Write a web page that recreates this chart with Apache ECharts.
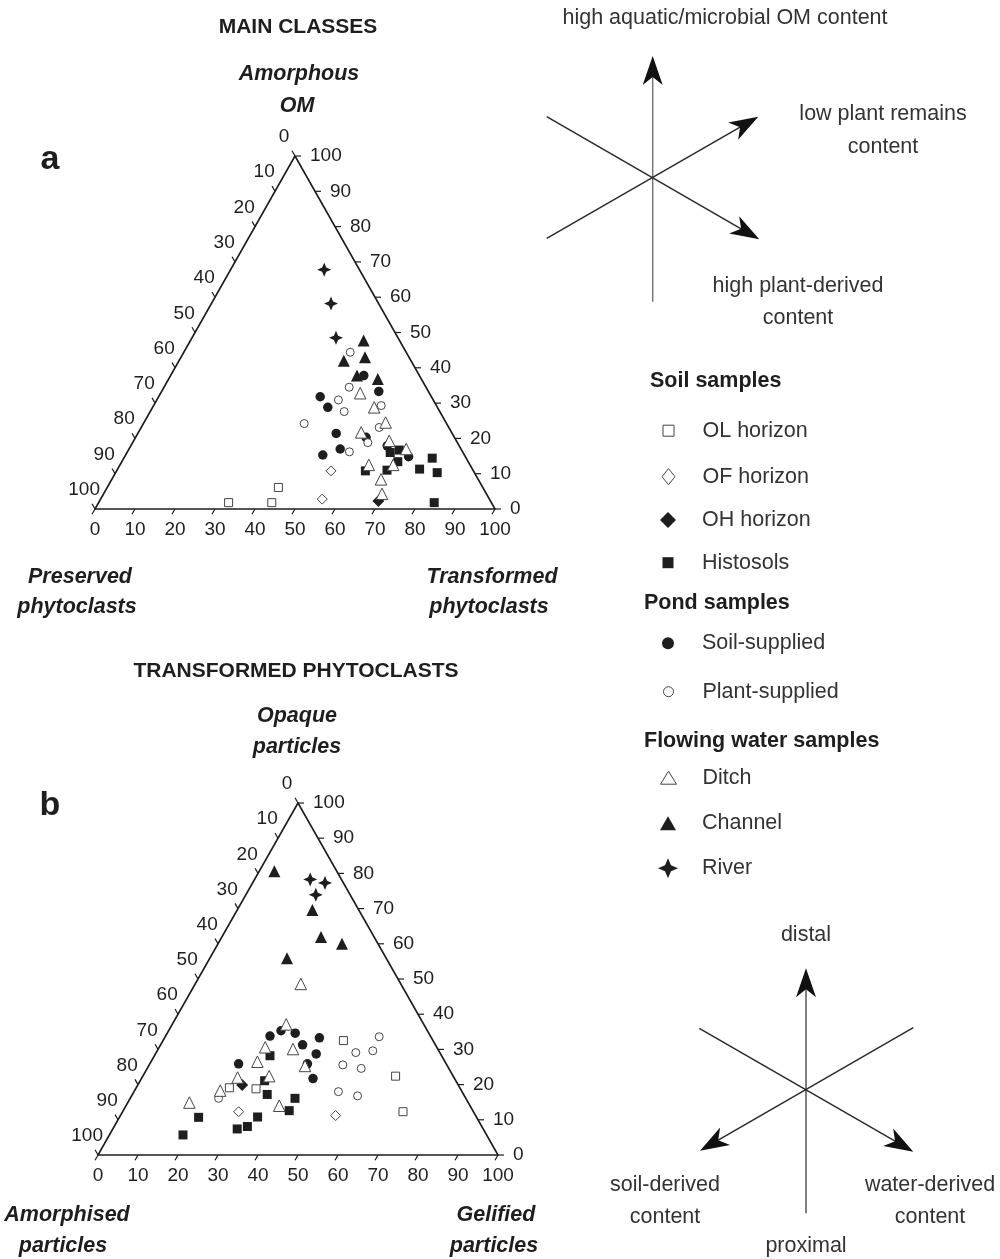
<!DOCTYPE html>
<html><head><meta charset="utf-8">
<script src="https://cdn.jsdelivr.net/npm/echarts@6.0.0/dist/echarts.min.js"></script>
<style>html,body{margin:0;padding:0;background:#fff}#c{width:1000px;height:1259px}</style>
</head><body><div id="c"></div>
<script>
// ---------- DATA ----------
const tickValues = [0,10,20,30,40,50,60,70,80,90,100];
const seriesNames = ['OL horizon','OF horizon','OH horizon','Histosols','Soil-supplied','Plant-supplied','Ditch','Channel','River'];

// Diagram a: [Transformed phytoclasts %, Amorphous OM %]
const aOL = [[32.5,1.8],[43.3,1.8],[42.8,6.1]];
const aOF = [[55.4,2.8],[53.6,10.8]];
const aOH = [[69.7,2.3]];
const aHistosols = [[65.8,16.0],[67.7,16.7],[69.0,13.4],[77.1,14.4],[80.4,10.3],[75.5,11.3],[62.2,10.8],[67.5,11.0],[83.9,1.8]];
const aSoilSupplied = [[48.3,37.8],[54.3,33.3],[40.4,31.8],[43.8,28.8],[49.6,21.4],[57.6,20.3],[64.1,17.9],[71.0,14.8],[49.3,15.3],[52.8,17.0]];
const aPlantSupplied = [[41.6,44.4],[46.3,34.5],[45.4,30.9],[48.5,27.6],[56.9,29.3],[40.2,24.2],[59.5,23.1],[58.8,18.8],[55.5,16.2]];
const aDitch = [[49.9,32.8],[55.4,28.8],[60.4,24.5],[55.7,21.7],[63.9,19.3],[69.3,17.0],[68.3,12.5],[62.2,12.5],[67.3,8.4],[69.6,4.3]];
const aChannel = [[43.3,47.7],[46.0,43.0],[41.2,42.0],[46.6,37.8],[52.3,36.8]];
const aRiver = [[23.4,67.8],[29.9,58.2],[36.0,48.5]];

// Diagram b: [Gelified particles %, Opaque particles %]
const bOL = [[45.1,32.5],[63.2,22.4],[70.1,12.3],[23.3,19.1],[30.1,18.8]];
const bOF = [[53.8,11.2],[29.0,12.3]];
const bOH = [[26.1,19.9]];
const bHistosols = [[28.9,28.2],[31.1,21.1],[33.7,17.2],[41.2,16.1],[41.5,12.6],[19.8,10.7],[34.5,10.8],[33.3,8.1],[31.1,7.4],[18.4,5.7]];
const bSoilSupplied = [[28.1,35.3],[26.1,33.8],[32.0,34.6],[38.7,33.3],[35.5,31.3],[40.2,28.7],[22.2,25.9],[39.4,25.9],[42.9,21.7]];
const bPlantSupplied = [[53.5,33.6],[49.9,29.1],[53.9,29.6],[48.4,25.6],[53.5,24.6],[51.1,18.0],[56.5,16.8],[22.1,16.1]];
const bDitch = [[26.4,48.6],[28.5,37.1],[26.5,30.6],[33.7,30.1],[26.6,26.5],[39.1,25.3],[31.6,22.4],[23.9,22.0],[21.4,18.3],[15.4,14.9],[38.3,14.0]];
const bChannel = [[3.8,80.6],[18.8,69.6],[24.8,61.9],[31.0,60.0],[19.3,55.9]];
const bRiver = [[13.9,78.3],[18.1,77.3],[17.5,73.9]];

const aData = [aOL,aOF,aOH,aHistosols,aSoilSupplied,aPlantSupplied,aDitch,aChannel,aRiver];
const bData = [bOL,bOF,bOH,bHistosols,bSoilSupplied,bPlantSupplied,bDitch,bChannel,bRiver];

// ---------- STYLE ----------
const FONT = '"Liberation Sans", Arial, Helvetica, sans-serif';
const INK = '#1e1e1e';
const STAR = 'path://M0,-10 L3,-3 L10,0 L3,3 L0,10 L-3,3 L-10,0 L-3,-3 Z';
const marker = {
  'OL horizon':     {symbol:'rect',     size:8,   fill:'#fff', stroke:'#444', bw:1, legend:'rect',     lw:11, lh:11, cy:430.7},
  'OF horizon':     {symbol:'diamond',  size:10,  fill:'#fff', stroke:'#444', bw:1, legend:'diamond',  lw:13, lh:16, cy:476.7},
  'OH horizon':     {symbol:'diamond',  size:12,  fill:INK,   stroke:INK,    bw:0, legend:'diamond',  lw:16, lh:16, cy:520},
  'Histosols':      {symbol:'rect',     size:9,   fill:INK,   stroke:INK,    bw:0, legend:'rect',     lw:11, lh:11, cy:562.7},
  'Soil-supplied':  {symbol:'circle',   size:9.5, fill:INK,   stroke:INK,    bw:0, legend:'circle',   lw:12, lh:12, cy:643.3},
  'Plant-supplied': {symbol:'circle',   size:8,   fill:'#fff', stroke:'#444', bw:1, legend:'circle',   lw:10, lh:10, cy:691.7},
  'Ditch':          {symbol:'triangle', size:11.5,fill:'#fff', stroke:'#444', bw:1, legend:'triangle', lw:16, lh:13, cy:777.7},
  'Channel':        {symbol:'triangle', size:12,  fill:INK,   stroke:INK,    bw:0, legend:'triangle', lw:16, lh:14, cy:823.3},
  'River':          {symbol:STAR,       size:14,  fill:INK,   stroke:INK,    bw:0, legend:STAR,       lw:20, lh:20, cy:868.3}
};

// ternary -> cartesian (x along base, y = height)
const toXY = d => [d[0] + d[1] / 2, d[1]];

function unit(a, b) { const dx = a[0]-b[0], dy = a[1]-b[1]; const l = Math.hypot(dx, dy); return [dx/l, dy/l]; }

function renderTicks(params, api) {
  const v = api.value(0), side = api.value(1);
  const apex = api.coord([50,100]), L = api.coord([0,0]), R = api.coord([100,0]);
  let p, d, children = [];
  if (side === 0) {
    p = api.coord([(100 - v) / 2, 100 - v]);
    d = unit(apex, R);
    children.push({type:'text', x: p[0] + d[0]*22, y: p[1] + d[1]*22,
      style:{text:String(v), fontSize:19, fontFamily:FONT, fill:INK, align:'center', verticalAlign:'middle'}});
  } else if (side === 1) {
    p = api.coord([100 - v / 2, v]);
    d = [1, 0];
    children.push({type:'text', x: p[0] + 15, y: p[1],
      style:{text:String(v), fontSize:19, fontFamily:FONT, fill:INK, align:'left', verticalAlign:'middle'}});
  } else {
    p = api.coord([v, 0]);
    d = unit(L, apex);
  }
  children.push({type:'line', shape:{x1:p[0], y1:p[1], x2:p[0]+d[0]*6, y2:p[1]+d[1]*6},
    style:{stroke:INK, lineWidth:1.2}});
  return {type:'group', children};
}

const tickData = [];
[0,1,2].forEach(s => tickValues.forEach(v => tickData.push([v, s])));

const grids = [
  {left:95, top:156, width:400, height:353},
  {left:98, top:803, width:400, height:352}
];

const xAxes = grids.map((g, i) => ({
  gridIndex:i, type:'value', min:0, max:100, interval:10,
  axisLine:{show:true, lineStyle:{color:INK, width:1.6}},
  axisTick:{show:false}, splitLine:{show:false},
  axisLabel:{fontSize:19, color:INK, fontFamily:FONT, margin:11}
}));
const yAxes = grids.map((g, i) => ({gridIndex:i, type:'value', min:0, max:100, show:false}));

const series = [];
[0,1].forEach(gi => {
  series.push({type:'line', xAxisIndex:gi, yAxisIndex:gi, data:[[0,0],[50,100],[100,0]],
    symbol:'none', silent:true, lineStyle:{color:INK, width:1.6}, z:1});
  series.push({type:'custom', xAxisIndex:gi, yAxisIndex:gi, data:tickData, renderItem:renderTicks,
    clip:false, silent:true, z:1});
  const sets = gi === 0 ? aData : bData;
  seriesNames.forEach((name, k) => {
    const m = marker[name];
    series.push({type:'scatter', name, xAxisIndex:gi, yAxisIndex:gi,
      data: sets[k].map(toXY), symbol:m.symbol, symbolSize:m.size,
      itemStyle:{color:m.fill, borderColor:m.stroke, borderWidth:m.bw, opacity:1},
      z:3});
  });
});

// one legend component per entry, so each icon can have its own size
const legends = seriesNames.map(n => {
  const m = marker[n];
  return {orient:'vertical', left:668 - m.lw / 2, top:m.cy - Math.max(m.lh, 22) / 2,
    itemWidth:m.lw, itemHeight:m.lh, padding:0, selectedMode:false,
    data:[{name:n, icon:m.legend, itemStyle:{color:m.fill, borderColor:m.stroke, borderWidth:m.bw}}],
    textStyle:{fontSize:21.5, color:'#333', fontFamily:FONT, padding:[0,0,0,702 - (668 + m.lw / 2) - 5]}};
});

// ---------- TEXT & ARROWS ----------
function txt(s, x, y, opt) {
  opt = opt || {};
  return {type:'text', x, y, silent:true, style:{text:s, fontSize:opt.size || 21.5, fontFamily:FONT,
    fontWeight:opt.bold ? 'bold' : 'normal', fontStyle:opt.italic ? 'italic' : 'normal',
    fill:opt.color || INK, align:opt.align || 'center', verticalAlign:'middle',
    textAlign:opt.align || 'center', textVerticalAlign:'middle'}};
}
function arrow(from, tip, color) {
  const u = unit(tip, from), p = [-u[1], u[0]];
  const len = 29, half = 10, notch = 21;
  const b = [tip[0]-u[0]*len, tip[1]-u[1]*len];
  const n = [tip[0]-u[0]*notch, tip[1]-u[1]*notch];
  return [
    {type:'line', silent:true, shape:{x1:from[0], y1:from[1], x2:n[0], y2:n[1]}, style:{stroke:color || '#2a2a2a', lineWidth:1.5}},
    {type:'polygon', silent:true, shape:{points:[tip, [b[0]+p[0]*half, b[1]+p[1]*half], n, [b[0]-p[0]*half, b[1]-p[1]*half]]}, style:{fill:'#111'}}
  ];
}
const BI = {bold:true, italic:true};
const graphics = [
  txt('MAIN CLASSES', 298, 27, {bold:true, size:21}),
  txt('Amorphous', 299, 74, BI), txt('OM', 297, 106, BI),
  txt('a', 50, 160, {bold:true, size:34}),
  txt('Preserved', 80, 577, BI), txt('phytoclasts', 77, 607, BI),
  txt('Transformed', 492, 577, BI), txt('phytoclasts', 489, 607, BI),
  txt('TRANSFORMED PHYTOCLASTS', 296, 671, {bold:true, size:21}),
  txt('Opaque', 297, 716, BI), txt('particles', 297, 747, BI),
  txt('b', 50, 806, {bold:true, size:34}),
  txt('Amorphised', 67, 1215, BI), txt('particles', 63, 1246, BI),
  txt('Gelified', 496, 1215, BI), txt('particles', 494, 1246, BI),
  txt('Soil samples', 650, 381, {bold:true, align:'left'}),
  txt('Pond samples', 644, 603, {bold:true, align:'left'}),
  txt('Flowing water samples', 644, 741, {bold:true, align:'left'}),
  txt('high aquatic/microbial OM content', 725, 18, {color:'#333'}),
  txt('low plant remains', 883, 114, {color:'#333'}), txt('content', 883, 147, {color:'#333'}),
  txt('high plant-derived', 798, 286, {color:'#333'}), txt('content', 798, 318, {color:'#333'}),
  txt('distal', 806, 935, {color:'#333'}),
  txt('soil-derived', 665, 1185, {color:'#333'}), txt('content', 665, 1217, {color:'#333'}),
  txt('water-derived', 930, 1185, {color:'#333'}), txt('content', 930, 1217, {color:'#333'}),
  txt('proximal', 806, 1246, {color:'#333'})
].concat(
  arrow([652.7,301.7],[652.7,56],'#777'),
  arrow([546.7,238.3],[758.3,116.7]),
  arrow([546.7,116.7],[759.3,239.3]),
  arrow([806,1213.3],[806,968.3],'#555'),
  arrow([699.3,1028.3],[913.3,1151.7]),
  arrow([913.3,1027.7],[700,1150.7])
);

const chart = echarts.init(document.getElementById('c'), null, {renderer:'canvas'});
chart.setOption({
  backgroundColor:'#fff', animation:false,
  grid:grids, xAxis:xAxes, yAxis:yAxes, legend:legends,
  series, graphic:graphics
});
</script></body></html>
